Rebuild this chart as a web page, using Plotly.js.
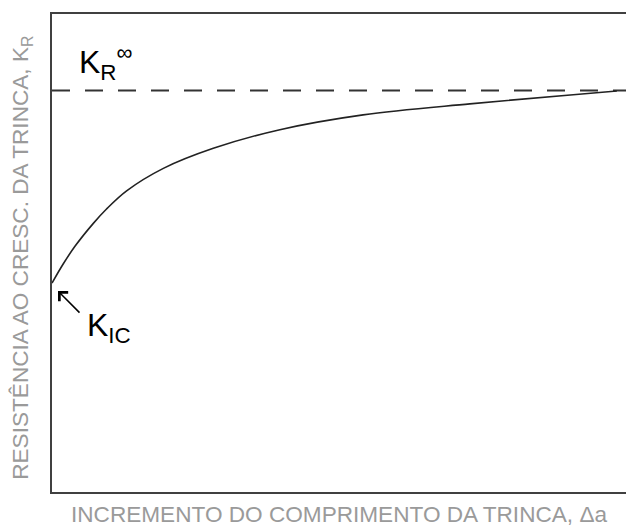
<!DOCTYPE html>
<html>
<head>
<meta charset="utf-8">
<script src="https://cdn.plot.ly/plotly-3.0.1.min.js"></script>
<style>
  html, body { margin: 0; padding: 0; background: #fff; }
  #chart { width: 626px; height: 526px; }
</style>
</head>
<body>
<div id="chart"></div>
<script>
// R-curve: crack growth resistance versus crack extension (arbitrary units)
const deltaA = [0, 2.0, 4.0, 7.2, 9.5, 13.0, 19.4, 28.1, 39.7, 54.2, 72.8, 90.8, 98.4];
const kR     = [43.7, 47.8, 51.4, 56.2, 59.2, 63.0, 67.7, 71.9, 75.8, 78.9, 81.2, 83.1, 83.9];
const kRInf  = 84;          // plateau value K_R^inf
const xLimits = [0, 100];
const yLimits = [0, 100];

const axisFont = { family: 'Liberation Sans, Arial, sans-serif', size: 22.6, color: '#9a9a9a' };
const labelFont = { family: 'Liberation Sans, Arial, sans-serif', size: 32, color: '#000' };

const traces = [
  {
    x: xLimits,
    y: [kRInf, kRInf],
    mode: 'lines',
    line: { color: '#333', width: 2, dash: '18px,15px' },
    hoverinfo: 'skip'
  },
  {
    x: deltaA,
    y: kR,
    mode: 'lines',
    line: { color: '#222', width: 1.6, shape: 'spline', smoothing: 1 },
    hoverinfo: 'skip'
  }
];

const layout = {
  width: 626,
  height: 526,
  margin: { l: 52, r: 0, t: 14, b: 34 },
  paper_bgcolor: '#fff',
  plot_bgcolor: '#fff',
  showlegend: false,
  xaxis: {
    range: xLimits,
    showgrid: false, zeroline: false, showticklabels: false, ticks: '',
    showline: true, linecolor: '#404040', linewidth: 2, mirror: true
  },
  yaxis: {
    range: yLimits,
    showgrid: false, zeroline: false, showticklabels: false, ticks: '',
    showline: true, linecolor: '#404040', linewidth: 2
  },
  annotations: [
    {
      text: 'INCREMENTO DO COMPRIMENTO DA TRINCA, Δa',
      xref: 'paper', yref: 'paper', x: 0.5, y: 0,
      xanchor: 'center', yanchor: 'top', yshift: -8,
      showarrow: false, font: axisFont
    },
    {
      text: 'RESISTÊNCIA AO CRESC. DA TRINCA, K<sub>R</sub>',
      xref: 'paper', yref: 'paper', x: 0, y: 0.49,
      xanchor: 'right', yanchor: 'middle', xshift: -14,
      textangle: -90,
      showarrow: false, font: axisFont
    },
    {
      text: 'K<sub>R</sub><sup>∞</sup>',
      xref: 'paper', yref: 'y', x: 0.043, y: kRInf,
      xanchor: 'left', yanchor: 'bottom', yshift: 3,
      showarrow: false, font: labelFont
    },
    {
      text: 'K<sub>IC</sub>',
      xref: 'paper', yref: 'y', x: 0.057, y: kR[0],
      xanchor: 'left', yanchor: 'top', yshift: -22,
      showarrow: false, font: labelFont
    },
    {
      text: '',
      x: deltaA[0], y: kR[0], xref: 'x', yref: 'y',
      xshift: 6, yshift: -8,
      showarrow: true, arrowhead: 4, arrowsize: 1.6, arrowwidth: 1.5, arrowcolor: '#000',
      ax: 23, ay: 23
    }
  ]
};

Plotly.newPlot('chart', traces, layout, { staticPlot: true, displayModeBar: false });
</script>
</body>
</html>
